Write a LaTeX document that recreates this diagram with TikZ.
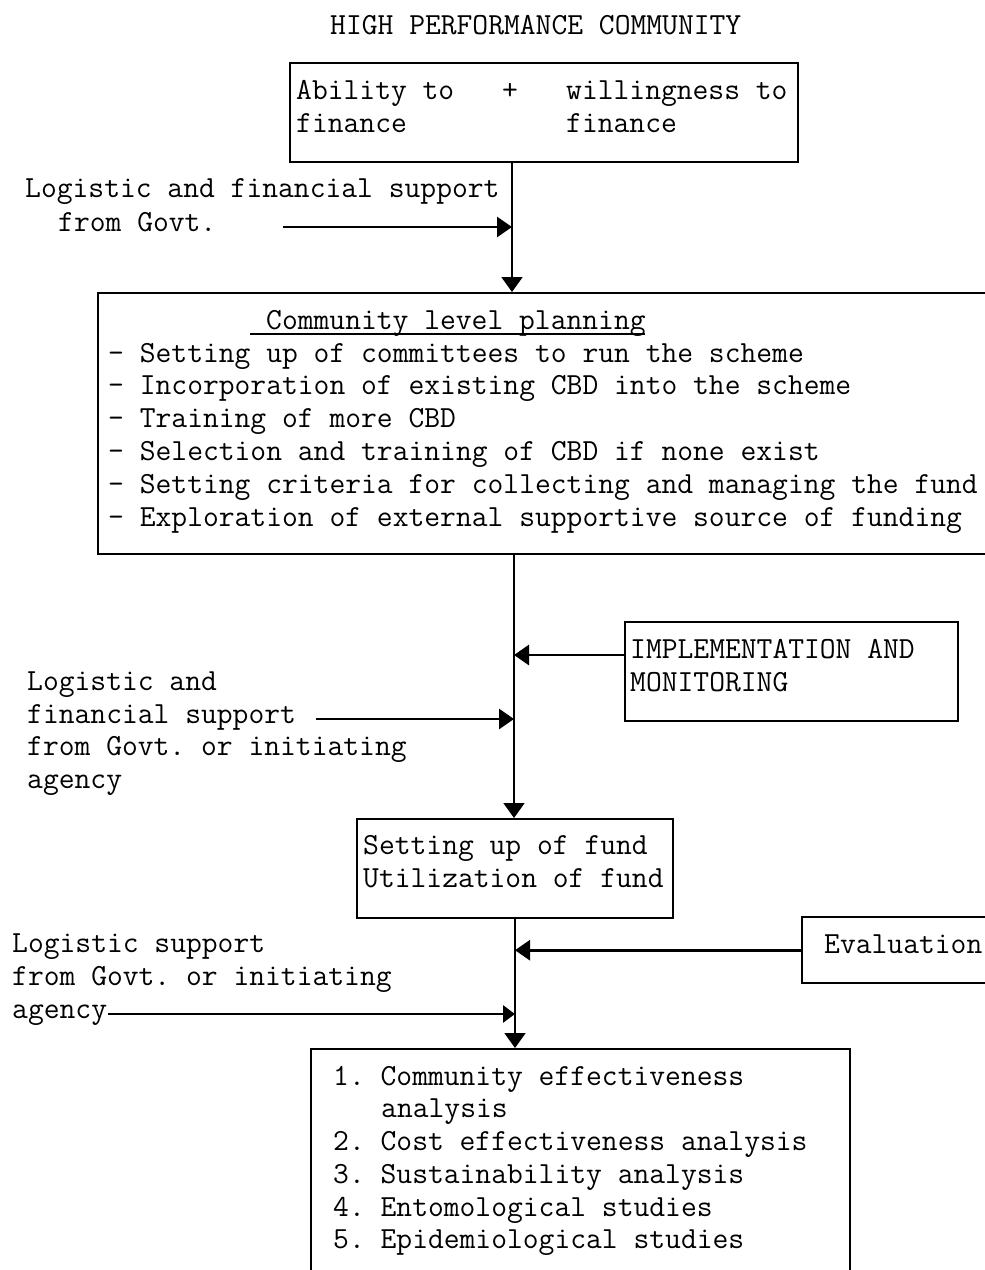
\documentclass[tikz,border=0pt]{standalone}
\usepackage{fontspec}
\usetikzlibrary{arrows.meta}
\begin{document}
\frenchspacing
\begin{tikzpicture}[x=1pt,y=-1pt,
  box/.style={draw,line width=2.4pt,rectangle,inner sep=0pt,anchor=north west},
  txt/.style={anchor=base west,inner sep=0pt,font=\ttfamily\fontsize{30.7}{33}\selectfont},
  flow/.style={line width=1.8pt,-{Triangle[length=15pt,width=21pt]}},
  feed/.style={line width=2.8pt,-{Triangle[length=15pt,width=20pt]}},
  smallfeed/.style={line width=2.8pt,-{Triangle[length=12pt,width=17pt]}}]
\useasboundingbox (0,0) rectangle (985,1270);
\clip (0,0) rectangle (985,1270);
\fill[white] (0,0) rectangle (985,1270);

% title
\node[txt] (title) at (330,34) {HIGH PERFORMANCE COMMUNITY};

% boxes
\node[box,minimum width=508pt,minimum height=99pt] (top) at (289,62) {};
\node[box,minimum width=920pt,minimum height=261pt] (plan) at (97,292) {};
\node[box,minimum width=333pt,minimum height=99pt] (impl) at (624,621) {};
\node[box,minimum width=316pt,minimum height=99pt] (fund) at (356,818) {};
\node[box,minimum width=220pt,minimum height=66pt] (eval) at (801,916) {};
\node[box,minimum width=539pt,minimum height=260pt] (res) at (310,1048) {};

% top box text
\node[txt] (a1) at (296,99) {Ability to};
\node[txt] (a2) at (296,132) {finance};
\node[txt] (plus) at (502,99) {+};
\node[txt] (w1) at (566,99) {willingness to};
\node[txt] (w2) at (566,132) {finance};

% label 1
\node[txt] (l11) at (25,197) {Logistic and financial support};
\node[txt] (l12) at (58,231) {from Govt.};

% planning box text
\node[txt] (p0) at (266,329) {Community level planning};
\draw[line width=1.4pt] (250,334) -- (645,334);
\node[txt] (p1) at (108,362) {- Setting up of committees to run the scheme};
\node[txt] (p2) at (108,394) {- Incorporation of existing CBD into the scheme};
\node[txt] (p3) at (108,427) {- Training of more CBD};
\node[txt] (p4) at (108,460) {- Selection and training of CBD if none exist};
\node[txt] (p5) at (108,493) {- Setting criteria for collecting and managing the fund};
\node[txt] (p6) at (108,526) {- Exploration of external supportive source of funding};

% implementation
\node[txt] (i1) at (630,658) {IMPLEMENTATION AND};
\node[txt] (i2) at (630,691) {MONITORING};

% label 2
\node[txt] (l21) at (27,690) {Logistic and};
\node[txt] (l22) at (27,723) {financial support};
\node[txt] (l23) at (27,755) {from Govt. or initiating};
\node[txt] (l24) at (27,788) {agency};

% fund box
\node[txt] (u1) at (363,854) {Setting up of fund};
\node[txt] (u2) at (363,887) {Utilization of fund};

% evaluation
\node[txt] (e1) at (824,953) {Evaluation};

% label 3
\node[txt] (l31) at (12,952) {Logistic support};
\node[txt] (l32) at (12,985) {from Govt. or initiating};
\node[txt] (l33) at (12,1018) {agency};

% results
\node[txt] (r1) at (333,1085) {1. Community effectiveness};
\node[txt] (r1b) at (381,1117) {analysis};
\node[txt] (r2) at (333,1150) {2. Cost effectiveness analysis};
\node[txt] (r3) at (333,1183) {3. Sustainability analysis};
\node[txt] (r4) at (333,1216) {4. Entomological studies};
\node[txt] (r5) at (333,1248) {5. Epidemiological studies};

% spine
\coordinate (s1) at (512,0);
\coordinate (s2) at (514,0);
\coordinate (s3) at (515,0);
\draw[flow] (top.south -| s1) -- (plan.north -| s1);
\draw[flow] (plan.south -| s2) -- (fund.north -| s2);
\draw[flow] (fund.south -| s3) -- (res.north -| s3);

% feeds
\coordinate (f1) at (283,227);
\coordinate (f2) at (316,719);
\coordinate (f3) at (108,1014);
\coordinate (k2) at (514,655);
\draw[feed] (f1) -- (f1 -| s1);
\draw[feed] (k2 -| impl.west) -- (k2);
\draw[feed] (f2) -- (f2 -| s2);
\draw[feed] (eval.west) -- (eval.west -| s3);
\draw[smallfeed] (f3) -- (f3 -| s3);
\end{tikzpicture}
\end{document}
